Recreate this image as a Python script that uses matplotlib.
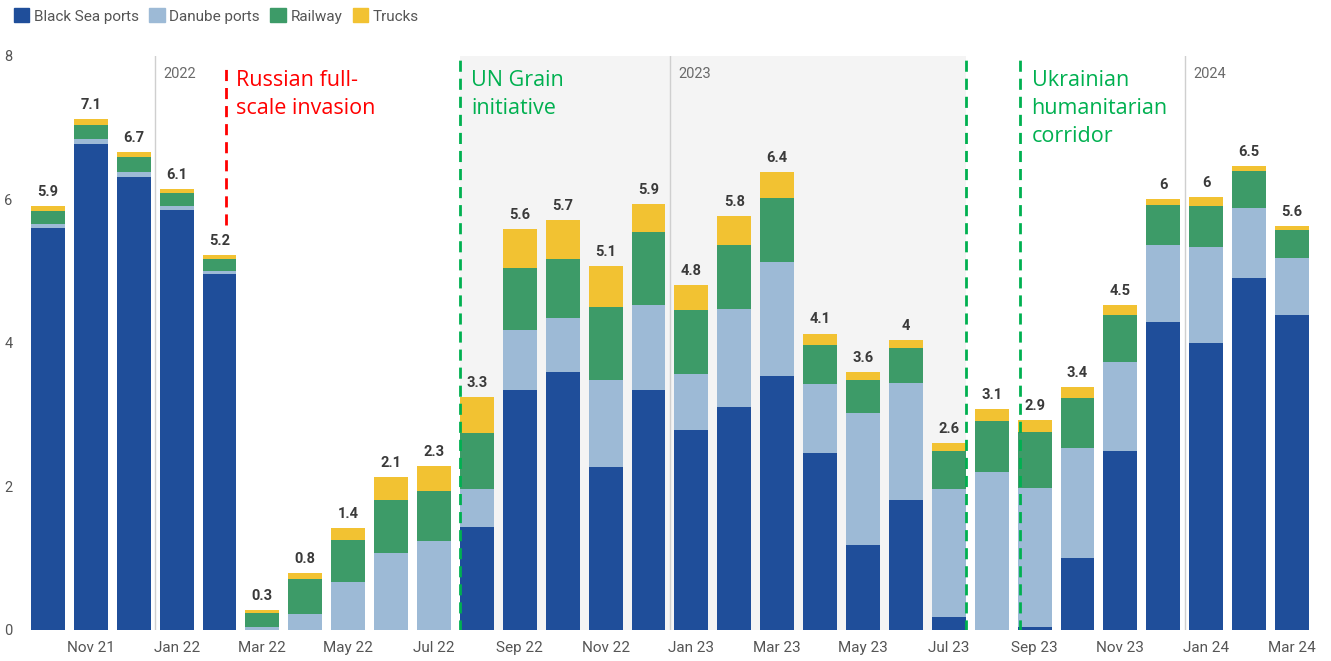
import matplotlib.pyplot as plt
from matplotlib.patches import Patch
import numpy as np

# ==========================================================
# Data (million tonnes per month)
# ==========================================================

months = [
    "Oct 21", "Nov 21", "Dec 21", "Jan 22", "Feb 22", "Mar 22", "Apr 22", "May 22",
    "Jun 22", "Jul 22", "Aug 22", "Sep 22", "Oct 22", "Nov 22", "Dec 22", "Jan 23",
    "Feb 23", "Mar 23", "Apr 23", "May 23", "Jun 23", "Jul 23", "Aug 23", "Sep 23",
    "Oct 23", "Nov 23", "Dec 23", "Jan 24", "Feb 24", "Mar 24",
]

black_sea = [5.60, 6.77, 6.31, 5.85, 4.96, 0.00, 0.00, 0.00, 0.00, 0.00,
             1.44, 3.34, 3.60, 2.27, 3.34, 2.79, 3.11, 3.54, 2.47, 1.18,
             1.81, 0.18, 0.00, 0.04, 1.00, 2.49, 4.29, 4.00, 4.90, 4.39]

danube = [0.06, 0.07, 0.07, 0.06, 0.05, 0.04, 0.22, 0.67, 1.07, 1.24,
          0.53, 0.84, 0.75, 1.21, 1.19, 0.78, 1.36, 1.59, 0.96, 1.84,
          1.63, 1.79, 2.20, 1.94, 1.54, 1.25, 1.08, 1.34, 0.98, 0.79]

railway = [0.18, 0.20, 0.21, 0.18, 0.16, 0.20, 0.49, 0.58, 0.74, 0.70,
           0.78, 0.87, 0.82, 1.02, 1.02, 0.89, 0.90, 0.89, 0.54, 0.46,
           0.49, 0.52, 0.71, 0.78, 0.69, 0.65, 0.56, 0.57, 0.52, 0.39]

trucks = [0.07, 0.08, 0.07, 0.06, 0.05, 0.04, 0.08, 0.17, 0.32, 0.35,
          0.50, 0.54, 0.54, 0.57, 0.39, 0.35, 0.40, 0.36, 0.16, 0.12,
          0.11, 0.11, 0.17, 0.17, 0.16, 0.14, 0.07, 0.12, 0.07, 0.06]

total_labels = ["5.9", "7.1", "6.7", "6.1", "5.2", "0.3", "0.8", "1.4", "2.1", "2.3",
                "3.3", "5.6", "5.7", "5.1", "5.9", "4.8", "5.8", "6.4", "4.1", "3.6",
                "4", "2.6", "3.1", "2.9", "3.4", "4.5", "6", "6", "6.5", "5.6"]

series_names = ["Black Sea ports", "Danube ports", "Railway", "Trucks"]
colors = ["#1f4e9a", "#9dbad6", "#3d9b68", "#f2c232"]

years = ["2022", "2023", "2024"]
year_pos = [2.5, 14.5, 26.5]

# ==========================================================
# Figure
# ==========================================================

plt.rcParams["font.family"] = ["Roboto", "DejaVu Sans"]

fig = plt.figure(figsize=(13.31, 6.61), dpi=100)
ax = fig.add_axes([0.0199, 0.0469, 0.9801, 0.8684])

x = np.arange(len(months))

# shaded UN Grain initiative period
ax.axvspan(9.6, 21.4, color="#f4f4f4", zorder=0, lw=0)

bottom = np.zeros(len(months))
for vals, name, col in zip([black_sea, danube, railway, trucks], series_names, colors):
    vals = np.array(vals)
    ax.bar(x, vals, 0.79, bottom=bottom, color=col, label=name, zorder=2)
    bottom = bottom + vals

for xi, top, lab in zip(x, bottom, total_labels):
    ax.text(xi, top + 0.1, lab, ha="center", va="bottom",
            fontsize=10.5, fontweight="bold", color="#3a3a3a", zorder=3)

# year separators
for yp, yr in zip(year_pos, years):
    ax.axvline(yp, ymin=0, ymax=1, color="#cfcfcf", lw=1, zorder=1)
    ax.text(yp + 0.2, 7.85, yr, ha="left", va="top", fontsize=10.5, color="#6a6a6a")

# events
dash = (0, (4, 2.5))
note_font = ["Open Sans", "DejaVu Sans"]
ax.plot([4.15, 4.15], [5.64, 7.86], color="#ff0000", lw=2, linestyle=dash, zorder=4)
ax.text(4.38, 7.8, "Russian full-\nscale invasion", color="#ff0000",
        fontsize=15.5, va="top", ha="left", family=note_font, linespacing=1.42)

green = "#00b050"
for gx in [9.6, 21.4, 22.66]:
    ax.plot([gx, gx], [-0.02, 8.0], color=green, lw=2, linestyle=dash, zorder=4)

ax.text(9.86, 7.8, "UN Grain\ninitiative", color=green,
        fontsize=15.5, va="top", ha="left", family=note_font, linespacing=1.42)
ax.text(22.93, 7.8, "Ukrainian\nhumanitarian\ncorridor", color=green,
        fontsize=15.5, va="top", ha="left", family=note_font, linespacing=1.42)

# axes styling
ax.set_xlim(-0.5, 29.91)
ax.set_ylim(0, 8)
ax.set_yticks([0, 2, 4, 6, 8])
ax.set_xticks(x[1::2])
ax.set_xticklabels(months[1::2])
ax.tick_params(axis="both", length=0, labelsize=11, colors="#555555")
ax.tick_params(axis="x", pad=8)
ax.tick_params(axis="y", pad=10, labelsize=10.5)
for s in ax.spines.values():
    s.set_visible(False)

handles = [Patch(color=c, label=n) for c, n in zip(colors, series_names)]
fig.legend(handles=handles, loc="upper left", bbox_to_anchor=(0.0, 1.008),
           ncol=4, frameon=False, fontsize=11, handlelength=1.0,
           handleheight=1.0, handletextpad=0.3, columnspacing=0.7,
           labelcolor="#555555")

plt.savefig("out.png", dpi=100)
plt.close()
